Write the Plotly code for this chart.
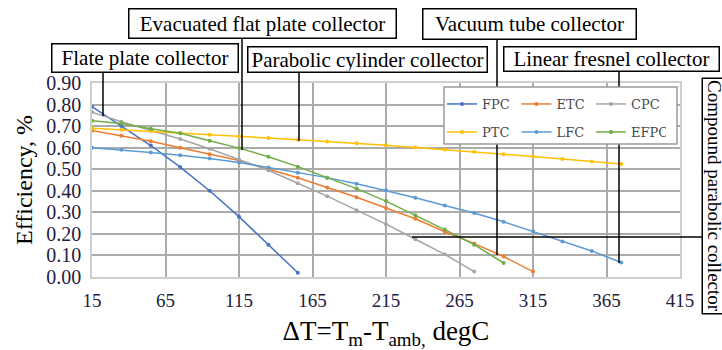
import plotly.graph_objects as go

# ---------------- data ----------------
FPC_x = [15, 35, 55, 75, 95, 115, 135, 155]
FPC = [0.79, 0.70, 0.61, 0.51, 0.40, 0.28, 0.15, 0.02]

ETC_x = [15, 35, 55, 75, 95, 115, 135, 155, 175, 195, 215, 235, 255, 275, 295, 315]
ETC = [0.68, 0.655, 0.63, 0.60, 0.57, 0.54, 0.50, 0.46, 0.415, 0.37, 0.32, 0.27,
       0.21, 0.155, 0.095, 0.025]

CPC_x = [15, 35, 55, 75, 95, 115, 135, 155, 175, 195, 215, 235, 255, 275]
CPC = [0.765, 0.72, 0.68, 0.64, 0.595, 0.545, 0.495, 0.435, 0.375, 0.31, 0.245,
       0.175, 0.105, 0.025]

PTC_x = [15, 35, 55, 75, 95, 115, 135, 155, 175, 195, 215, 235, 255, 275, 295,
         315, 335, 355, 375]
PTC = [0.69, 0.683, 0.676, 0.668, 0.66, 0.652, 0.645, 0.637, 0.629, 0.62, 0.611,
       0.601, 0.591, 0.581, 0.57, 0.559, 0.547, 0.536, 0.524]

LFC_x = [15, 35, 55, 75, 95, 115, 135, 155, 175, 195, 215, 235, 255, 275, 295,
         315, 335, 355, 375]
LFC = [0.60, 0.59, 0.578, 0.565, 0.55, 0.531, 0.508, 0.484, 0.461, 0.433, 0.402,
       0.368, 0.332, 0.297, 0.256, 0.212, 0.165, 0.121, 0.067]

EFPC_x = [15, 35, 55, 75, 95, 115, 135, 155, 175, 195, 215, 235, 255, 275, 295]
EFPC = [0.725, 0.712, 0.688, 0.667, 0.632, 0.598, 0.558, 0.512, 0.461, 0.41,
        0.352, 0.287, 0.22, 0.15, 0.065]

x_ticks = [15, 65, 115, 165, 215, 265, 315, 365, 415]

# ---------------- layout geometry ----------------
W, H = 722, 350
ML, MR, MT, MB = 92, 42, 83, 73
PW, PH = W - ML - MR, H - MT - MB


def px(x):
    return (x - ML) / PW


def py(y):
    return (H - MB - y) / PH


SERIF = "Liberation Serif"
TICK_COL = "#1f2040"

fig = go.Figure()

series = [
    ("FPC", FPC_x, FPC, "#4472C4", "legend"),
    ("ETC", ETC_x, ETC, "#ED7D31", "legend"),
    ("CPC", CPC_x, CPC, "#A5A5A5", "legend"),
    ("PTC", PTC_x, PTC, "#FFC000", "legend2"),
    ("LFC", LFC_x, LFC, "#5B9BD5", "legend2"),
    ("EFPC", EFPC_x, EFPC, "#70AD47", "legend2"),
]
for name, xs, ys, col, lg in series:
    fig.add_trace(go.Scatter(
        x=xs, y=ys, name=name, mode="lines+markers",
        line=dict(color=col, width=1.5),
        marker=dict(color=col, size=4),
        legend=lg,
    ))

legend_common = dict(
    orientation="h", xanchor="left", yanchor="top",
    bgcolor="rgba(0,0,0,0)", borderwidth=0,
    font=dict(family="DejaVu Serif", size=13, color="#4a4a4a"),
    entrywidth=29.5, entrywidthmode="pixels", itemwidth=30,
)

# ---------------- annotation boxes ----------------
BW = 1.5
PAD = 1
boxes = [
    ("Flate plate collector", 51, 43, 188, 30),
    ("Evacuated flat plate collector", 128, 8, 269, 31),
    ("Parabolic cylinder collector", 247, 46, 241, 27),
    ("Vacuum tube collector", 422, 8, 215, 32),
    ("Linear fresnel collector", 503, 46, 217, 26),
]
annotations = []
for text, bx, by, bw, bh in boxes:
    annotations.append(dict(
        text=text, xref="paper", yref="paper", x=px(bx), y=py(by),
        xanchor="left", yanchor="top", showarrow=False,
        width=bw - 2 * (BW + PAD), height=bh - 2 * (BW + PAD),
        bordercolor="black", borderwidth=BW, borderpad=PAD, bgcolor="white",
        font=dict(family=SERIF, size=21, color="black"), align="center", valign="middle",
    ))
# vertical box on the right
annotations.append(dict(
    text="Compound parabolic collector", xref="paper", yref="paper",
    x=px(702), y=py(77), xanchor="left", yanchor="top", showarrow=False,
    textangle=90, borderpad=1,
    bordercolor="black", borderwidth=BW, bgcolor="white",
    font=dict(family=SERIF, size=19, color="black"),
))

# leader lines (pixel positions of the callouts)
leaders = [
    (103, 73, 103, 116),
    (242, 39, 242, 150),
    (299, 73, 299, 141),
    (497, 40, 497, 255),
    (619, 72, 619, 263),
    (412, 237, 702, 237),
]
shapes = []
for x0, y0, x1, y1 in leaders:
    shapes.append(dict(type="line", xref="paper", yref="paper",
                       x0=px(x0), y0=py(y0), x1=px(x1), y1=py(y1),
                       line=dict(color="black", width=1.5), layer="above"))
# legend frame (drawn over the leaders that pass behind the legend)
shapes.append(dict(type="rect", xref="paper", yref="paper",
                   x0=px(444), x1=px(677), y0=py(144), y1=py(87),
                   line=dict(color="#9a9a9a", width=1.5), fillcolor="white",
                   layer="above"))

axis_common = dict(
    showgrid=True, gridcolor="#ababab", gridwidth=2,
    showline=True, linecolor="#cfcfcf", linewidth=1.5, mirror=True,
    zeroline=False, ticks="outside", ticklen=5, tickcolor="rgba(0,0,0,0)",
    automargin=False,
)

fig.update_layout(
    width=W, height=H,
    margin=dict(l=ML, r=MR, t=MT, b=MB, pad=0),
    paper_bgcolor="white", plot_bgcolor="white",
    showlegend=True,
    legend=dict(x=px(442), y=py(89), **legend_common),
    legend2=dict(x=px(442), y=py(117), **legend_common),
    xaxis=dict(
        range=[15, 415], tickvals=x_ticks, ticktext=[str(v) for v in x_ticks],
        tickfont=dict(family=SERIF, size=19, color=TICK_COL),
        title=dict(text="ΔT=T<sub>m</sub>-T<sub>amb,</sub> degC",
                   font=dict(family=SERIF, size=27, color="black"), standoff=12),
        **axis_common,
    ),
    yaxis=dict(
        range=[0, 0.9], dtick=0.1, tick0=0, tickformat=".2f",
        tickfont=dict(family=SERIF, size=20, color=TICK_COL),
        title=dict(text="Efficiency, %",
                   font=dict(family=SERIF, size=24, color="black"), standoff=7),
        **axis_common,
    ),
    annotations=annotations,
    shapes=shapes,
)

# the page's default body margin would shift the figure by 8px
fig.write_html("out.html",
               config={"displayModeBar": False},
               post_script="document.body.style.margin='0';document.body.style.overflow='hidden';")
